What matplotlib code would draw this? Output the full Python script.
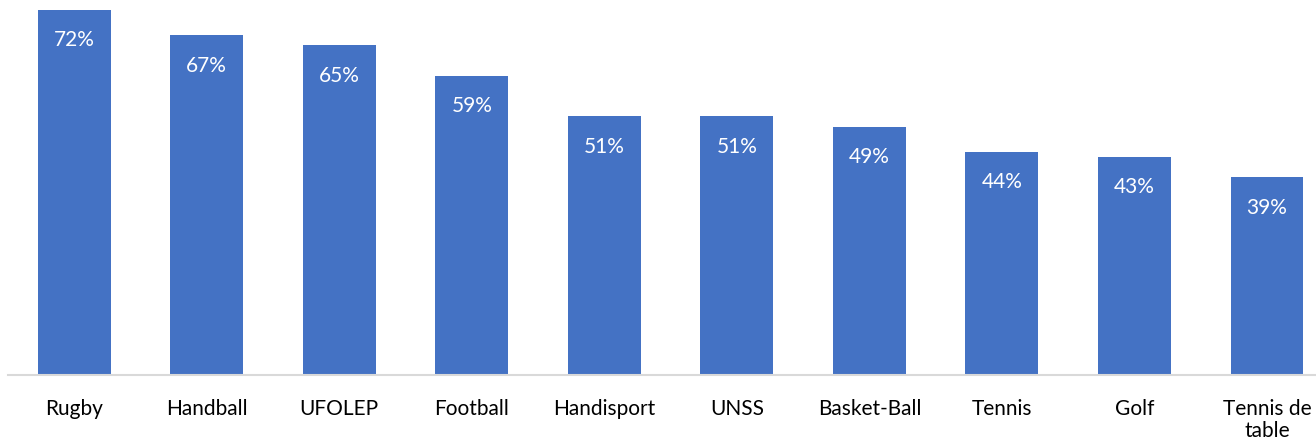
import matplotlib.pyplot as plt

plt.rcParams['font.family'] = ['Lato', 'DejaVu Sans']

sports = ['Rugby', 'Handball', 'UFOLEP', 'Football', 'Handisport', 'UNSS',
          'Basket-Ball', 'Tennis', 'Golf', 'Tennis de\ntable']
values = [72, 67, 65, 59, 51, 51, 49, 44, 43, 39]

fig = plt.figure(figsize=(13.16, 4.44), dpi=100)
ax = fig.add_axes([8/1316, 69/444, 1308/1316, 375/444])

x = range(len(sports))
bars = ax.bar(x, values, width=0.55, color='#4472C4')

# value labels inside top of bars
for xi, v in zip(x, values):
    ax.text(xi, v - 6, '%d%%' % v, ha='center', va='center', color='white', fontsize=15)

ax.set_xlim(-0.5, 9.37)
ax.set_ylim(0, 73.97)
ax.set_xticks(list(x))
ax.set_xticklabels(sports, fontsize=15, color='#000000', linespacing=1.15)
ax.tick_params(axis='x', length=0, pad=17)
ax.set_yticks([])
for s in ['top', 'right', 'left']:
    ax.spines[s].set_visible(False)
ax.spines['bottom'].set_color('#D9D9D9')
ax.spines['bottom'].set_linewidth(1.5)

fig.savefig('out.png', dpi=100)
